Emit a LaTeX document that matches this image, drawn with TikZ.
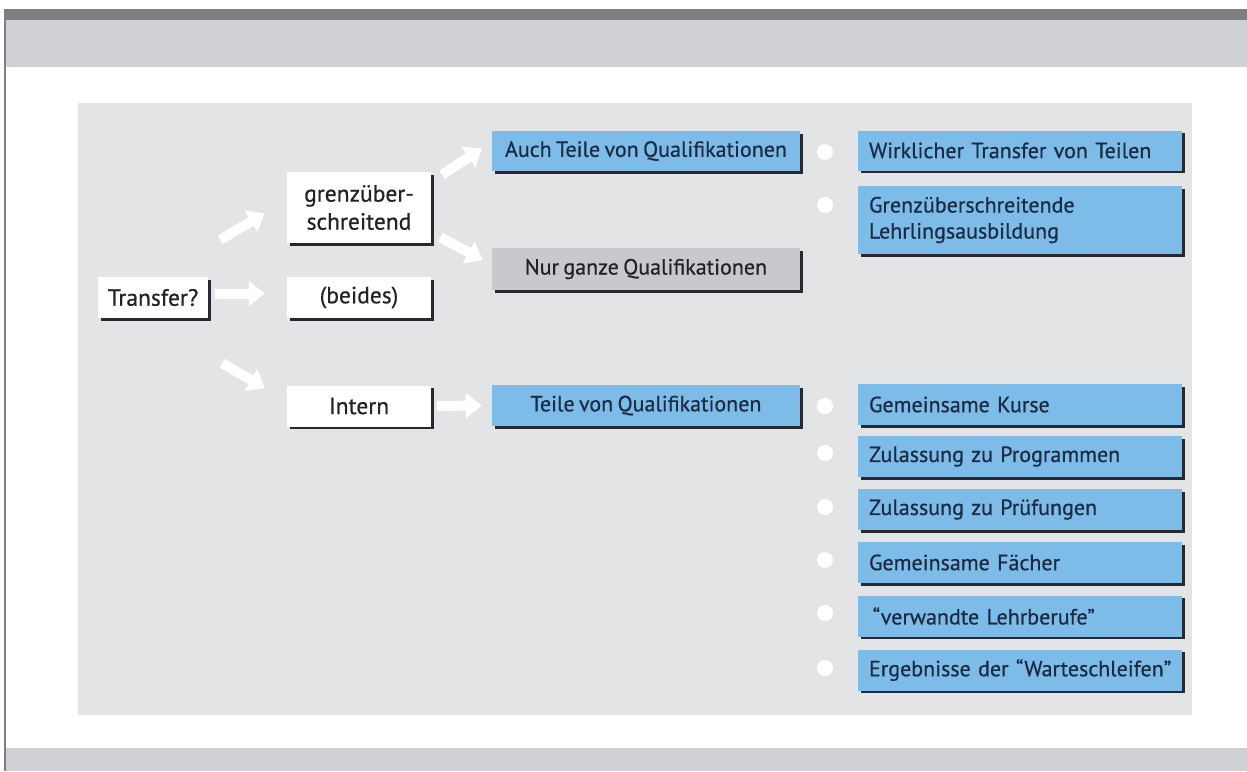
\documentclass[tikz,border=0pt]{standalone}
\usepackage{fontspec}
\setmainfont{PT Sans}[FakeBold=0.6, WordSpace=0.75]
\usetikzlibrary{arrows.meta,shadows}

\definecolor{framedark}{HTML}{7E7E83}
\definecolor{framelight}{HTML}{CFD0D4}
\definecolor{panel}{HTML}{E2E4E6}
\definecolor{boxblue}{HTML}{7DBCE9}
\definecolor{boxgray}{HTML}{C9C9CD}
\definecolor{inkblue}{HTML}{1A2B42}
\definecolor{inkgray}{HTML}{232323}
\definecolor{shade}{HTML}{262A30}

\tikzset{
  box/.style={inner sep=0pt, font=\fontsize{22}{26}\selectfont,
    drop shadow={shadow xshift=2.5pt, shadow yshift=-2.5pt, fill=shade, opacity=1}},
  whitebox/.style={box, fill=white, text=inkgray, align=center,
    font=\fontsize{23.5}{28}\selectfont},
  bluebox/.style={box, fill=boxblue, text=inkblue},
  graybox/.style={box, fill=boxgray, text=inkgray},
  listbox/.style={bluebox, minimum width=324pt, minimum height=41pt,
    text width=302pt, align=left},
  dot/.style={circle, fill=white, minimum size=16pt, inner sep=0pt},
  warrow/.style={draw=white, line width=10pt,
    -{Triangle[width=24pt,length=16pt]}},
}

\begin{document}
\begin{tikzpicture}[x=1pt,y=-1pt]
  \useasboundingbox (0,0) rectangle (1247,771);
  \fill[white] (0,0) rectangle (1247,771);

  % page frame
  \fill[framelight] (4,20) rectangle (1247,67);
  \fill[framedark] (4,9) rectangle (1247,20);
  \fill[framelight] (4,748) rectangle (1247,771);
  \draw[framedark, line width=2pt] (5,9) -- (5,771);

  % panel
  \fill[panel] (78,103) rectangle (1192,715);

  % first level
  \node[whitebox, minimum width=110pt, minimum height=41pt] (transfer) at (153,297.5) {Transfer?};
  \node[whitebox, minimum width=144pt, minimum height=71pt] (grenz) at (359,207.5) {grenzüber-\\schreitend};
  \node[whitebox, minimum width=144pt, minimum height=41pt] (beides) at (359,297.5) {(beides)};
  \node[whitebox, minimum width=144pt, minimum height=41pt] (intern) at (359,406) {Intern};

  % second level
  \node[bluebox, minimum width=308pt, minimum height=40pt] (auch) at (646,151) {Auch Teile von Qualifikationen};
  \node[graybox, minimum width=308pt, minimum height=42pt] (nur) at (646,269) {Nur ganze Qualifikationen};
  \node[bluebox, minimum width=308pt, minimum height=41pt] (teile) at (646,405.5) {Teile von Qualifikationen};

  % third level
  \node[listbox, minimum height=40pt] (r1) at (1020,150.5) {Wirklicher Transfer von Teilen};
  \node[listbox, minimum height=68pt] (r2) at (1020,220) {Grenzüberschreitende\\Lehrlingsausbildung};
  \node[listbox] (k1) at (1020,404.5) {Gemeinsame Kurse};
  \node[listbox] (k2) at (1020,456.5) {Zulassung zu Programmen};
  \node[listbox] (k3) at (1020,509.5) {Zulassung zu Prüfungen};
  \node[listbox] (k4) at (1020,562.5) {Gemeinsame Fächer};
  \node[listbox] (k5) at (1020,616) {\,“verwandte Lehrberufe”};
  \node[listbox] (k6) at (1020,670) {Ergebnisse der “Warteschleifen”};

  % bullets
  \foreach \n/\y in {d1/152,d2/205,d3/406,d4/453,d5/507,d6/560,d7/613,d8/668}
    \node[dot] (\n) at (825,\y) {};

  % arrows
  \draw[warrow] ([shift={(12,-37)}]transfer.north east) -- ([shift={(-22,-30)}]grenz.south west);
  \draw[warrow] ([shift={(7,-4)}]transfer.east) -- ([shift={(-22,-4)}]beides.west);
  \draw[warrow] ([shift={(14,45)}]transfer.south east) -- ([shift={(-22,-18)}]intern.west);
  \draw[warrow] ([xshift=6]intern.east) -- ([xshift=-10]teile.west);
  \draw[warrow] ([shift={(11,3)}]grenz.north east) -- ([shift={(-10,-23)}]auch.south west);
  \draw[warrow] ([shift={(9,-6)}]grenz.south east) -- ([shift={(-9,-9)}]nur.west);
\end{tikzpicture}
\end{document}
